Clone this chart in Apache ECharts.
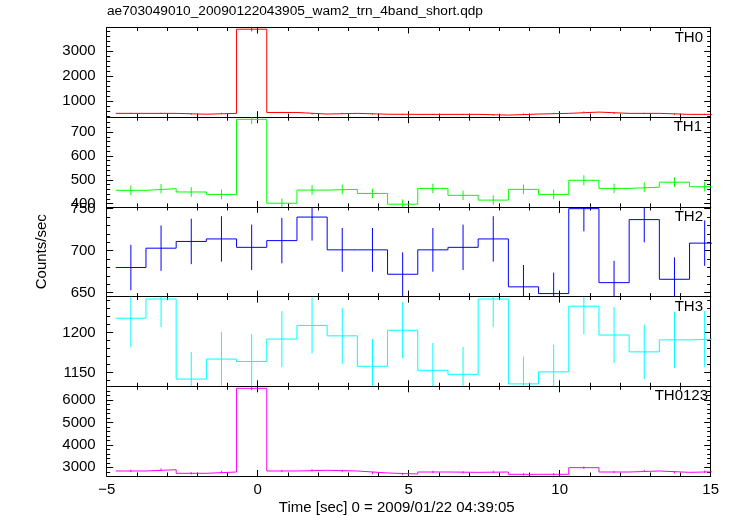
<!DOCTYPE html>
<html>
<head>
<meta charset="utf-8">
<script src="https://cdn.jsdelivr.net/npm/echarts@6/dist/echarts.min.js"></script>
<style>html,body{margin:0;padding:0;background:#fff;}#c{width:733px;height:516px;}</style>
</head>
<body>
<div id="c"></div>
<script>
// ---- data ----
const timeCenters = [-4.2,-3.2,-2.2,-1.2,-0.2,0.8,1.8,2.8,3.8,4.8,5.8,6.8,7.8,8.8,9.8,10.8,11.8,12.8,13.8,14.8];
const binHalfWidth = 0.5;
const panelNames = ['TH0','TH1','TH2','TH3','TH0123'];
const th0    = [504,504,470,504,3890,540,476,504,470,464,464,464,435,476,504,556,504,504,464,464];
const th0Err = [22,22,22,22,90,23,22,22,22,22,22,22,21,22,22,24,22,22,22,22];
const th1    = [456,463,449,439,753,402,457,460,443,398,464,435,415,460,439,498,464,469,490,471];
const th1Err = [20,20,20,20,20,20,20,20,20,20,20,20,20,20,20,21,20,20,20,20];
const th2    = [680,703,711,714,704,712,740,701,701,672,701,704,714,657,649,750,662,737,666,709];
const th2Err = [27,27,27,27,27,27,28,26,26,26,26,27,27,26,25,27,26,27,26,27];
const th3    = [1218,1242,1142,1167,1164,1192,1209,1196,1158,1203,1153,1148,1242,1136,1151,1233,1197,1176,1191,1192];
const th3Err = [36,35,34,34,34,35,35,35,34,35,34,34,35,34,34,35,35,34,35,35];
const th0123    = [2835,2893,2732,2790,6521,2835,2866,2835,2746,2700,2790,2775,2790,2687,2687,2983,2790,2835,2775,2805];
const th0123Err = [53,54,52,53,81,53,54,53,52,52,53,53,53,52,52,55,53,53,53,53];
const xTickLabels = [-5,0,5,10,15];
const yMajorTicks = [[1000,2000,3000],[400,500,600,700],[650,700,750],[1150,1200],[3000,4000,5000,6000]];
const yMinorStep = [200,20,10,10,200];
const yRanges = [[350,3958],[386.6,762],[645.4,752.1],[1133,1245],[2612,6611]];
const titleText = 'ae703049010_20090122043905_wam2_trn_4band_short.qdp';
const yName = 'Counts/sec';
const xName = 'Time [sec] 0 = 2009/01/22 04:39:05';

const values = [th0, th1, th2, th3, th0123];
const errors = [th0Err, th1Err, th2Err, th3Err, th0123Err];
const colors = ['#ff0000','#00ff00','#0000ff','#00ffff','#ff00ff'];

// ---- layout ----
const FONT = 'Liberation Sans, Arial, Helvetica, sans-serif';
const gridLeft = 106.7, gridRight = 22.3, gridTop0 = 27.5, gridH = 89.7;
const labelRight = [30, 31, 30, 30, 25];

const chart = echarts.init(document.getElementById('c'), null, {renderer: 'canvas'});

const grids = [], xAxes = [], yAxes = [], series = [], titles = [];
titles.push({text: titleText, left: 107, top: 4, padding: 0,
  textStyle: {fontFamily: FONT, fontSize: 13.7, fontWeight: 'normal', color: '#000'}});

const xMin = xTickLabels[0], xMax = xTickLabels[xTickLabels.length - 1];
const xInterval = xTickLabels[1] - xTickLabels[0];

for (let i = 0; i < 5; i++) {
  const top = gridTop0 + i * gridH;
  grids.push({left: gridLeft, right: gridRight, top: top, height: gridH});
  titles.push({text: panelNames[i], right: labelRight[i], top: top + 2.5, padding: 0,
    textStyle: {fontFamily: FONT, fontSize: 15, fontWeight: 'normal', color: '#000'}});
  const isLast = i === 4;
  ['bottom', 'top'].forEach(pos => {
    const ax = {
      type: 'value', gridIndex: i, position: pos, min: xMin, max: xMax, interval: xInterval,
      axisLine: {show: true, onZero: false, lineStyle: {color: '#000', width: 1}},
      axisTick: {show: true, inside: true, length: 6, lineStyle: {color: '#000', width: 1}},
      minorTick: {show: true, splitNumber: 5, length: 3.5, lineStyle: {color: '#000', width: 1}},
      splitLine: {show: false},
      axisLabel: {show: isLast && pos === 'bottom', margin: 6, fontFamily: FONT, fontSize: 15, color: '#000',
        formatter: v => String(v).replace('-', '\u2212')}
    };
    if (isLast && pos === 'bottom') {
      ax.name = xName; ax.nameLocation = 'middle'; ax.nameGap = 24;
      ax.nameTextStyle = {fontFamily: FONT, fontSize: 15, color: '#000', padding: [0, 24, 0, 0]};
    }
    xAxes.push(ax);
  });
  const [ymin, ymax] = yRanges[i];
  const majors = yMajorTicks[i];
  const minors = [];
  const st = yMinorStep[i];
  for (let v = Math.ceil(ymin / st) * st; v <= ymax; v += st) {
    if (!majors.some(m => Math.abs(m - v) < 1e-6)) minors.push(v);
  }
  ['left', 'right'].forEach(pos => {
    const major = {
      type: 'value', gridIndex: i, position: pos, min: ymin, max: ymax,
      axisLine: {show: true, onZero: false, lineStyle: {color: '#000', width: 1}},
      axisTick: {show: true, inside: true, length: 6.5, customValues: majors, lineStyle: {color: '#000', width: 1}},
      splitLine: {show: false},
      axisLabel: {show: pos === 'left', customValues: majors, margin: 11, fontFamily: FONT, fontSize: 15, color: '#000',
        formatter: v => String(v)}
    };
    if (i === 2 && pos === 'left') {
      major.name = yName; major.nameLocation = 'middle'; major.nameGap = 57;
      major.nameTextStyle = {fontFamily: FONT, fontSize: 15, color: '#000'};
    }
    yAxes.push(major);
    yAxes.push({
      type: 'value', gridIndex: i, position: pos, min: ymin, max: ymax,
      axisLine: {show: false, onZero: false},
      axisTick: {show: true, inside: true, length: 3.5, customValues: minors, lineStyle: {color: '#000', width: 1}},
      splitLine: {show: false},
      axisLabel: {show: false}
    });
  });

  const vals = values[i], errs = errors[i];
  const stepData = timeCenters.map((c, k) => [c - binHalfWidth, vals[k]]);
  stepData.push([timeCenters[timeCenters.length - 1] + binHalfWidth, vals[vals.length - 1]]);
  series.push({
    type: 'line', xAxisIndex: 2 * i, yAxisIndex: 4 * i, step: 'end', data: stepData,
    showSymbol: false, symbol: 'none', clip: true, animation: false,
    lineStyle: {color: colors[i], width: 1}
  });
  const errData = timeCenters.map((c, k) => [c, vals[k] - errs[k], vals[k] + errs[k]]);
  const col = colors[i];
  series.push({
    type: 'custom', xAxisIndex: 2 * i, yAxisIndex: 4 * i, data: errData, clip: true, animation: false,
    encode: {x: 0, y: [1, 2]},
    renderItem: function (params, api) {
      const p1 = api.coord([api.value(0), api.value(1)]);
      const p2 = api.coord([api.value(0), api.value(2)]);
      const cs = params.coordSys;
      if (p1[0] < cs.x - 0.5 || p1[0] > cs.x + cs.width + 0.5) return null;
      const clampY = y => Math.max(cs.y, Math.min(cs.y + cs.height, y));
      return {type: 'line', shape: {x1: p1[0], y1: clampY(p1[1]), x2: p2[0], y2: clampY(p2[1])},
        style: {stroke: col, lineWidth: 1}};
    }
  });
}

chart.setOption({
  backgroundColor: '#fff',
  animation: false,
  title: titles,
  grid: grids,
  xAxis: xAxes,
  yAxis: yAxes,
  series: series
});
</script>
</body>
</html>
